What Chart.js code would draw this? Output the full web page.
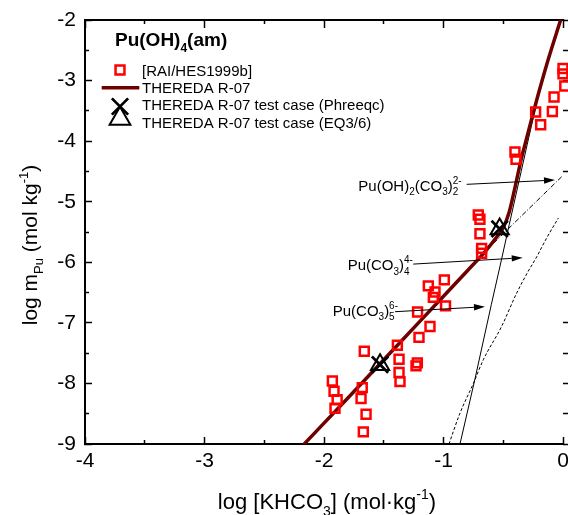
<!DOCTYPE html>
<html>
<head>
<meta charset="utf-8">
<script src="https://cdn.jsdelivr.net/npm/chart.js@4/dist/chart.umd.min.js"></script>
<style>
html,body{margin:0;padding:0;background:#fff;}
#wrap{width:568px;height:515px;position:relative;}
</style>
</head>
<body>
<div id="wrap"><canvas id="c" width="568" height="515"></canvas></div>
<script>
// ---------------- data ----------------
const xMajorTicks = [-4, -3, -2, -1, 0];
const xTickLabels = ['-4', '-3', '-2', '-1', '0'];
const xMinorTicks = [-3.5, -2.5, -1.5, -0.5];
const yMajorTicks = [-2, -3, -4, -5, -6, -7, -8, -9];
const yTickLabels = ['-2', '-3', '-4', '-5', '-6', '-7', '-8', '-9'];
const yMinorTicks = [-2.5, -3.5, -4.5, -5.5, -6.5, -7.5, -8.5];

const seriesLabels = [
  '[RAI/HES1999b]',
  'THEREDA R-07',
  'THEREDA R-07 test case (Phreeqc)',
  'THEREDA R-07 test case (EQ3/6)'
];

// experimental solubility data [RAI/HES1999b]
const raiX = [-0.993, -1.127, -1.071, -1.085, -0.983, -1.217, -1.113, -1.205, -1.386, -1.663,
              -1.372, -1.219, -1.230, -1.372, -1.364, -1.930, -1.680, -1.916, -1.890, -1.690,
              -1.908, -1.648, -1.671, -0.402, -0.393, -0.709, -0.695, -0.695, -0.681, -0.681,
               0.000,  0.000,  0.015, -0.075, -0.089, -0.229, -0.187];
const raiY = [-6.29, -6.39, -6.49, -6.58, -6.72, -6.82, -7.06, -7.24, -7.37, -7.47,
              -7.60, -7.66, -7.71, -7.82, -7.97, -7.96, -8.07, -8.13, -8.27, -8.25,
              -8.41, -8.51, -8.80, -4.18, -4.30, -5.22, -5.29, -5.53, -5.77, -5.85,
              -2.80, -2.89, -3.09, -3.27, -3.51, -3.52, -3.73];

// THEREDA R-07 total solubility curve
const theredaX = [-2.18, -1.8, -1.5, -1.2, -1.0, -0.8, -0.65, -0.55, -0.5, -0.45, -0.40, -0.35, -0.30, -0.22, -0.125, -0.02];
const theredaY = [-9.03, -8.24, -7.61, -6.98, -6.56, -6.14, -5.82, -5.57, -5.43, -5.17, -4.75, -4.30, -3.92, -3.32, -2.66, -2.00];

// test cases
const phreeqcX = [-1.531, -0.53];
const phreeqcY = [-7.69, -5.45];
const eq36X = [-1.531, -0.53];
const eq36Y = [-7.69, -5.45];

// species contributions
const speciesSolidX = [-0.862, -0.736, -0.60, -0.514, -0.45, -0.40, -0.35, -0.30, -0.22, -0.125, -0.02];
const speciesSolidY = [-9.00, -7.92, -6.70, -5.95, -5.38, -4.94, -4.50, -4.06, -3.36, -2.68, -2.00];
const speciesDashX = [-0.954, -0.862, -0.75, -0.667, -0.514, -0.388, -0.30, -0.22, -0.137, -0.039];
const speciesDashY = [-9.00, -8.49, -8.00, -7.61, -7.06, -6.51, -6.18, -5.91, -5.60, -5.27];
const speciesDashDotX = [-0.64, -0.485, -0.011, 0.0];
const speciesDashDotY = [-5.80, -5.50, -4.587, -4.566];

// ---------------- helpers ----------------
const FONT = "'Liberation Sans', Arial, Helvetica, sans-serif";
const pts = (xs, ys) => xs.map((x, i) => ({ x: x, y: ys[i] }));

function setTicks(values) {
  return function (s) { s.ticks = values.map(v => ({ value: v })); };
}

function richDraw(ctx, parts, x, y, size, weight, doDraw) {
  const small = Math.round(size * 0.64);
  let cx = x;
  for (const p of parts) {
    if (p.t !== undefined) {
      ctx.font = weight + ' ' + size + 'px ' + FONT;
      if (doDraw) ctx.fillText(p.t, cx, y);
      cx += ctx.measureText(p.t).width;
    } else {
      ctx.font = weight + ' ' + small + 'px ' + FONT;
      let w = 0;
      if (p.sub) { if (doDraw) ctx.fillText(p.sub, cx, y + size * 0.3); w = Math.max(w, ctx.measureText(p.sub).width); }
      if (p.sup) { if (doDraw) ctx.fillText(p.sup, cx, y - size * 0.45); w = Math.max(w, ctx.measureText(p.sup).width); }
      cx += w;
    }
  }
  return cx - x;
}

// text annotations (anchor positions in data units)
const annotations = [
  { parts: [{ t: 'Pu(OH)' }, { sub: '2' }, { t: '(CO' }, { sub: '3' }, { t: ')' }, { sub: '2', sup: '2-' }],
    at: [-1.713, -4.815], from: [-0.806, -4.713], to: [-0.067, -4.642] },
  { parts: [{ t: 'Pu(CO' }, { sub: '3' }, { t: ')' }, { sub: '4', sup: '4-' }],
    at: [-1.802, -6.128], from: [-1.253, -6.03], to: [-0.337, -5.925] },
  { parts: [{ t: 'Pu(CO' }, { sub: '3' }, { t: ')' }, { sub: '5', sup: '6-' }],
    at: [-1.927, -6.882], from: [-1.406, -6.816], to: [-0.653, -6.733] }
];

const textPlugin = {
  id: 'texts',
  afterDraw(chart) {
    const ctx = chart.ctx;
    const xs = chart.scales.x, ys = chart.scales.y;
    ctx.save();
    ctx.fillStyle = '#000';
    ctx.strokeStyle = '#000';
    ctx.textBaseline = 'alphabetic';
    ctx.textAlign = 'left';

    // species annotations with arrows
    for (const a of annotations) {
      richDraw(ctx, a.parts, xs.getPixelForValue(a.at[0]), ys.getPixelForValue(a.at[1]), 15, 'normal', true);
      const x1 = xs.getPixelForValue(a.from[0]), y1 = ys.getPixelForValue(a.from[1]);
      const x2 = xs.getPixelForValue(a.to[0]), y2 = ys.getPixelForValue(a.to[1]);
      const ang = Math.atan2(y2 - y1, x2 - x1);
      const hl = 11, hw = 3.2;
      ctx.lineWidth = 1;
      ctx.beginPath();
      ctx.moveTo(x1, y1);
      ctx.lineTo(x2 - hl * Math.cos(ang), y2 - hl * Math.sin(ang));
      ctx.stroke();
      ctx.beginPath();
      ctx.moveTo(x2, y2);
      ctx.lineTo(x2 - hl * Math.cos(ang) - hw * Math.sin(ang), y2 - hl * Math.sin(ang) + hw * Math.cos(ang));
      ctx.lineTo(x2 - hl * Math.cos(ang) + hw * Math.sin(ang), y2 - hl * Math.sin(ang) - hw * Math.cos(ang));
      ctx.closePath();
      ctx.fill();
    }

    // x axis title
    const xt = [{ t: 'log [KHCO' }, { sub: '3' }, { t: '] (mol\u00B7kg' }, { sup: '-1' }, { t: ')' }];
    const wx = richDraw(ctx, xt, 0, 0, 22, 'normal', false);
    const cxm = (chart.chartArea.left + chart.chartArea.right) / 2 + 3;
    richDraw(ctx, xt, cxm - wx / 2, 509, 22, 'normal', true);

    // y axis title
    const yt = [{ t: 'log m' }, { sub: 'Pu' }, { t: ' (mol kg' }, { sup: '-1' }, { t: ')' }];
    const wy = richDraw(ctx, yt, 0, 0, 21, 'normal', false);
    ctx.save();
    ctx.translate(37, 245);
    ctx.rotate(-Math.PI / 2);
    richDraw(ctx, yt, -wy / 2, 0, 21, 'normal', true);
    ctx.restore();

    // legend
    richDraw(ctx, [{ t: 'Pu(OH)' }, { sub: '4' }, { t: '(am)' }], 115, 46, 19, 'bold', true);
    const ds = chart.data.datasets;
    const rows = [
      { d: ds[0], kind: 'point', cy: 70, base: 75.5, r: 6.3 },
      { d: ds[1], kind: 'line', cy: 87.7, base: 92.5 },
      { d: ds[2], kind: 'point', cy: 106.5, base: 110, r: 11.5 },
      { d: ds[3], kind: 'point', cy: 118.7, base: 127.5, r: 12 }
    ];
    for (const row of rows) {
      const d = row.d;
      if (row.kind === 'line') {
        ctx.strokeStyle = d.borderColor;
        ctx.lineWidth = d.borderWidth;
        ctx.beginPath();
        ctx.moveTo(101.7, row.cy);
        ctx.lineTo(139.3, row.cy);
        ctx.stroke();
      } else {
        ctx.strokeStyle = d.pointBorderColor;
        ctx.fillStyle = 'rgba(0,0,0,0)';
        ctx.lineWidth = d.pointBorderWidth;
        Chart.helpers.drawPoint(ctx, { pointStyle: d.pointStyle, radius: row.r, borderWidth: d.pointBorderWidth, rotation: 0 }, 120, row.cy);
      }
      ctx.fillStyle = '#000';
      ctx.font = 'normal 15px ' + FONT;
      ctx.fillText(d.label, 142, row.base);
    }
    ctx.restore();
  }
};

// ---------------- axes ----------------
const tickFont = { family: FONT, size: 21 };
function xAxis(pos, ticksVals, tl, weight, showLabels, fitH) {
  return {
    type: 'linear', position: pos, min: -4, max: 0, weight: weight,
    afterBuildTicks: setTicks(ticksVals),
    ticks: {
      display: showLabels, autoSkip: false, maxRotation: 0, font: tickFont, color: '#000', padding: 12,
      callback: (v, i) => xTickLabels[xMajorTicks.indexOf(v)] ?? ''
    },
    grid: { drawOnChartArea: false, drawTicks: true, tickLength: tl, tickWidth: 1.5, tickColor: '#000' },
    border: { display: true, color: '#000', width: 2 },
    afterFit: s => { s.height = fitH; s.paddingLeft = 0; s.paddingRight = 0; }
  };
}
function yAxis(pos, ticksVals, tl, weight, showLabels, fitW, showBorder) {
  return {
    type: 'linear', position: pos, min: -9, max: -2, weight: weight,
    afterBuildTicks: setTicks(ticksVals),
    ticks: {
      display: showLabels, autoSkip: false, font: tickFont, color: '#000', padding: 16,
      callback: (v, i) => yTickLabels[yMajorTicks.indexOf(v)] ?? ''
    },
    grid: { drawOnChartArea: false, drawTicks: true, tickLength: tl, tickWidth: 1.5, tickColor: '#000' },
    border: { display: showBorder, color: '#000', width: 2 },
    afterFit: s => { s.width = fitW; s.paddingTop = 0; s.paddingBottom = 0; }
  };
}

const chart = new Chart(document.getElementById('c'), {
  type: 'scatter',
  data: {
    datasets: [
      { label: seriesLabels[0], data: pts(raiX, raiY), showLine: false,
        pointStyle: 'rect', pointRadius: 6.3, pointBorderWidth: 2.5,
        pointBorderColor: '#ff0000', pointBackgroundColor: 'rgba(0,0,0,0)', clip: false, order: 1 },
      { label: seriesLabels[1], data: pts(theredaX, theredaY), showLine: true, fill: false,
        borderColor: '#6e0000', borderWidth: 3.5, pointRadius: 0, cubicInterpolationMode: 'monotone', order: 2 },
      { label: seriesLabels[2], data: pts(phreeqcX, phreeqcY), showLine: false,
        pointStyle: 'crossRot', pointRadius: 11.5, pointBorderWidth: 2.8,
        pointBorderColor: '#000', pointBackgroundColor: 'rgba(0,0,0,0)', order: 0 },
      { label: seriesLabels[3], data: pts(eq36X, eq36Y), showLine: false,
        pointStyle: 'triangle', pointRadius: 10.5, pointBorderWidth: 2,
        pointBorderColor: '#000', pointBackgroundColor: 'rgba(0,0,0,0)', order: 0 },
      { label: 'species solid', data: pts(speciesSolidX, speciesSolidY), showLine: true, fill: false,
        borderColor: '#000', borderWidth: 1, pointRadius: 0, order: 3 },
      { label: 'species dashed', data: pts(speciesDashX, speciesDashY), showLine: true, fill: false,
        borderColor: '#000', borderWidth: 1, borderDash: [3, 2], pointRadius: 0, cubicInterpolationMode: 'monotone', order: 3 },
      { label: 'species dash-dot', data: pts(speciesDashDotX, speciesDashDotY), showLine: true, fill: false,
        borderColor: '#000', borderWidth: 1, borderDash: [5, 2, 1, 2], pointRadius: 0, order: 3 }
    ]
  },
  options: {
    responsive: false,
    animation: false,
    devicePixelRatio: 1,
    events: [],
    layout: { autoPadding: false, padding: { top: 20, right: 5, left: 0, bottom: 0 } },
    plugins: { legend: { display: false }, tooltip: { enabled: false }, title: { display: false } },
    scales: {
      x: xAxis('bottom', xMajorTicks, -7, 1, true, 71),
      xm: xAxis('bottom', xMinorTicks, -4, 0, false, 0),
      xt: xAxis('top', xMajorTicks, -8, 1, false, 0),
      xtm: xAxis('top', xMinorTicks, -4, 0, false, 0),
      y: yAxis('left', yMajorTicks, -7, 1, true, 85, true),
      ym: yAxis('left', yMinorTicks, -4, 0, false, 0, true),
      yr: yAxis('right', yMajorTicks.concat(yMinorTicks), 6, 0, false, 0, false)
    }
  },
  plugins: [textPlugin]
});
</script>
</body>
</html>
